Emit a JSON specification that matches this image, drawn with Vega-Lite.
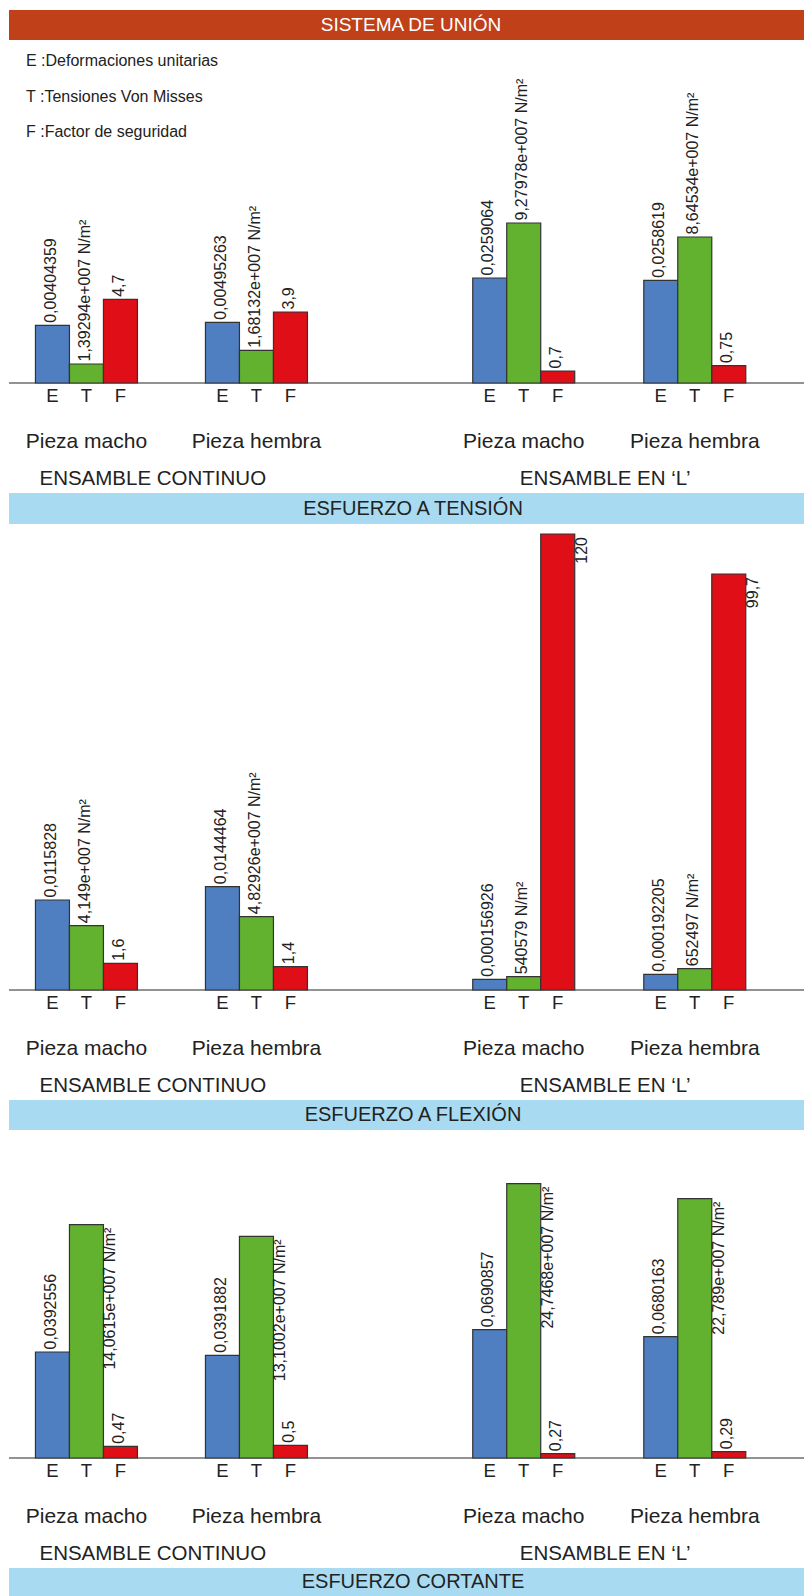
{
  "$schema": "https://vega.github.io/schema/vega-lite/v6.json",
  "padding": {"left": 8, "top": 10, "right": 0, "bottom": 0},
  "autosize": {"type": "pad"},
  "background": "white",
  "config": {"view": {"stroke": null}, "text": {"font": "Liberation Sans", "color": "#222222"}},
  "datasets": {
    "titulo": [{"titulo": "SISTEMA DE UNIÓN"}],
    "barras": [
      {"panel": "ESFUERZO A TENSIÓN", "ensamble": "ENSAMBLE CONTINUO", "pieza": "Pieza macho", "metrica": "E", "altura": 57.7, "etiqueta": "0,00404359"},
      {"panel": "ESFUERZO A TENSIÓN", "ensamble": "ENSAMBLE CONTINUO", "pieza": "Pieza macho", "metrica": "T", "altura": 19, "etiqueta": "1,39294e+007 N/m²"},
      {"panel": "ESFUERZO A TENSIÓN", "ensamble": "ENSAMBLE CONTINUO", "pieza": "Pieza macho", "metrica": "F", "altura": 83.7, "etiqueta": "4,7"},
      {"panel": "ESFUERZO A TENSIÓN", "ensamble": "ENSAMBLE CONTINUO", "pieza": "Pieza hembra", "metrica": "E", "altura": 60.7, "etiqueta": "0,00495263"},
      {"panel": "ESFUERZO A TENSIÓN", "ensamble": "ENSAMBLE CONTINUO", "pieza": "Pieza hembra", "metrica": "T", "altura": 32.7, "etiqueta": "1,68132e+007 N/m²"},
      {"panel": "ESFUERZO A TENSIÓN", "ensamble": "ENSAMBLE CONTINUO", "pieza": "Pieza hembra", "metrica": "F", "altura": 71, "etiqueta": "3,9"},
      {"panel": "ESFUERZO A TENSIÓN", "ensamble": "ENSAMBLE EN ‘L’", "pieza": "Pieza macho", "metrica": "E", "altura": 105, "etiqueta": "0,0259064"},
      {"panel": "ESFUERZO A TENSIÓN", "ensamble": "ENSAMBLE EN ‘L’", "pieza": "Pieza macho", "metrica": "T", "altura": 160, "etiqueta": "9,27978e+007 N/m²"},
      {"panel": "ESFUERZO A TENSIÓN", "ensamble": "ENSAMBLE EN ‘L’", "pieza": "Pieza macho", "metrica": "F", "altura": 12, "etiqueta": "0,7"},
      {"panel": "ESFUERZO A TENSIÓN", "ensamble": "ENSAMBLE EN ‘L’", "pieza": "Pieza hembra", "metrica": "E", "altura": 102.7, "etiqueta": "0,0258619"},
      {"panel": "ESFUERZO A TENSIÓN", "ensamble": "ENSAMBLE EN ‘L’", "pieza": "Pieza hembra", "metrica": "T", "altura": 146, "etiqueta": "8,64534e+007 N/m²"},
      {"panel": "ESFUERZO A TENSIÓN", "ensamble": "ENSAMBLE EN ‘L’", "pieza": "Pieza hembra", "metrica": "F", "altura": 17.4, "etiqueta": "0,75"},
      {"panel": "ESFUERZO A FLEXIÓN", "ensamble": "ENSAMBLE CONTINUO", "pieza": "Pieza macho", "metrica": "E", "altura": 90, "etiqueta": "0,0115828"},
      {"panel": "ESFUERZO A FLEXIÓN", "ensamble": "ENSAMBLE CONTINUO", "pieza": "Pieza macho", "metrica": "T", "altura": 64.3, "etiqueta": "4,149e+007 N/m²"},
      {"panel": "ESFUERZO A FLEXIÓN", "ensamble": "ENSAMBLE CONTINUO", "pieza": "Pieza macho", "metrica": "F", "altura": 26.7, "etiqueta": "1,6"},
      {"panel": "ESFUERZO A FLEXIÓN", "ensamble": "ENSAMBLE CONTINUO", "pieza": "Pieza hembra", "metrica": "E", "altura": 103.3, "etiqueta": "0,0144464"},
      {"panel": "ESFUERZO A FLEXIÓN", "ensamble": "ENSAMBLE CONTINUO", "pieza": "Pieza hembra", "metrica": "T", "altura": 73.3, "etiqueta": "4,82926e+007 N/m²"},
      {"panel": "ESFUERZO A FLEXIÓN", "ensamble": "ENSAMBLE CONTINUO", "pieza": "Pieza hembra", "metrica": "F", "altura": 23.3, "etiqueta": "1,4"},
      {"panel": "ESFUERZO A FLEXIÓN", "ensamble": "ENSAMBLE EN ‘L’", "pieza": "Pieza macho", "metrica": "E", "altura": 10.7, "etiqueta": "0,000156926"},
      {"panel": "ESFUERZO A FLEXIÓN", "ensamble": "ENSAMBLE EN ‘L’", "pieza": "Pieza macho", "metrica": "T", "altura": 13.3, "etiqueta": "540579 N/m²"},
      {"panel": "ESFUERZO A FLEXIÓN", "ensamble": "ENSAMBLE EN ‘L’", "pieza": "Pieza macho", "metrica": "F", "altura": 456, "etiqueta": "120"},
      {"panel": "ESFUERZO A FLEXIÓN", "ensamble": "ENSAMBLE EN ‘L’", "pieza": "Pieza hembra", "metrica": "E", "altura": 15.7, "etiqueta": "0,000192205"},
      {"panel": "ESFUERZO A FLEXIÓN", "ensamble": "ENSAMBLE EN ‘L’", "pieza": "Pieza hembra", "metrica": "T", "altura": 21.3, "etiqueta": "652497 N/m²"},
      {"panel": "ESFUERZO A FLEXIÓN", "ensamble": "ENSAMBLE EN ‘L’", "pieza": "Pieza hembra", "metrica": "F", "altura": 416, "etiqueta": "99,7"},
      {"panel": "ESFUERZO  CORTANTE", "ensamble": "ENSAMBLE CONTINUO", "pieza": "Pieza macho", "metrica": "E", "altura": 106, "etiqueta": "0,0392556"},
      {"panel": "ESFUERZO  CORTANTE", "ensamble": "ENSAMBLE CONTINUO", "pieza": "Pieza macho", "metrica": "T", "altura": 233.3, "etiqueta": "14,0615e+007 N/m²"},
      {"panel": "ESFUERZO  CORTANTE", "ensamble": "ENSAMBLE CONTINUO", "pieza": "Pieza macho", "metrica": "F", "altura": 11.7, "etiqueta": "0,47"},
      {"panel": "ESFUERZO  CORTANTE", "ensamble": "ENSAMBLE CONTINUO", "pieza": "Pieza hembra", "metrica": "E", "altura": 102.7, "etiqueta": "0,0391882"},
      {"panel": "ESFUERZO  CORTANTE", "ensamble": "ENSAMBLE CONTINUO", "pieza": "Pieza hembra", "metrica": "T", "altura": 221.7, "etiqueta": "13,1002e+007 N/m²"},
      {"panel": "ESFUERZO  CORTANTE", "ensamble": "ENSAMBLE CONTINUO", "pieza": "Pieza hembra", "metrica": "F", "altura": 12.7, "etiqueta": "0,5"},
      {"panel": "ESFUERZO  CORTANTE", "ensamble": "ENSAMBLE EN ‘L’", "pieza": "Pieza macho", "metrica": "E", "altura": 128.3, "etiqueta": "0,0690857"},
      {"panel": "ESFUERZO  CORTANTE", "ensamble": "ENSAMBLE EN ‘L’", "pieza": "Pieza macho", "metrica": "T", "altura": 274.3, "etiqueta": "24,7468e+007 N/m²"},
      {"panel": "ESFUERZO  CORTANTE", "ensamble": "ENSAMBLE EN ‘L’", "pieza": "Pieza macho", "metrica": "F", "altura": 4.3, "etiqueta": "0,27"},
      {"panel": "ESFUERZO  CORTANTE", "ensamble": "ENSAMBLE EN ‘L’", "pieza": "Pieza hembra", "metrica": "E", "altura": 121.3, "etiqueta": "0,0680163"},
      {"panel": "ESFUERZO  CORTANTE", "ensamble": "ENSAMBLE EN ‘L’", "pieza": "Pieza hembra", "metrica": "T", "altura": 259.3, "etiqueta": "22,789e+007 N/m²"},
      {"panel": "ESFUERZO  CORTANTE", "ensamble": "ENSAMBLE EN ‘L’", "pieza": "Pieza hembra", "metrica": "F", "altura": 6.3, "etiqueta": "0,29"}
    ]
  },
  "spacing": 0,
  "vconcat": [
    {
      "width": 796, "height": 30,
      "view": {"fill": "#BF4019", "stroke": null},
      "data": {"name": "titulo"},
      "mark": {"type": "text", "color": "white", "fontSize": 19, "baseline": "middle", "dx": 4},
      "encoding": {"text": {"field": "titulo"}}
    },
    {
      "hconcat": [
        {
          "width": 340, "height": 453,
          "data": {"name": "barras"},
          "transform": [{"filter": "datum.panel == 'ESFUERZO A TENSIÓN' && datum.ensamble == 'ENSAMBLE CONTINUO'"}],
          "layer": [
            {"transform": [{"filter": "datum.metrica == 'T' && datum.pieza == 'Pieza macho'"}], "mark": {"type": "rule", "color": "#6e6e6e", "strokeWidth": 1.5}, "encoding": {"y": {"datum": 0, "type": "quantitative", "axis": null}}},
            {"mark": {"type": "bar", "stroke": "#333333", "strokeWidth": 1.2}, "encoding": {
              "x": {"field": "pieza", "type": "nominal", "scale": {"domain": ["Pieza macho", "Pieza hembra"], "paddingInner": 0, "paddingOuter": 0}, "axis": null},
              "xOffset": {"field": "metrica", "type": "nominal", "scale": {"domain": ["E", "T", "F"], "paddingInner": 0, "paddingOuter": 1.9, "align": 0.389}},
              "y": {"field": "altura", "type": "quantitative", "scale": {"domain": [-110, 343], "nice": false}, "axis": null},
              "y2": {"datum": 0},
              "color": {"field": "metrica", "type": "nominal", "scale": {"domain": ["E", "T", "F"], "range": ["#4F7EC1", "#62B22F", "#E00E16"]},
                "legend": {"orient": "none", "direction": "vertical", "legendX": 1, "legendY": 43, "title": null, "padding": 0, "symbolSize": 0, "symbolOpacity": 0, "symbolStrokeWidth": 0, "labelOffset": 0, "labelLimit": 400, "labelFont": "Liberation Sans", "labelFontSize": 16, "labelColor": "#222222", "rowPadding": 19.5,
                  "labelExpr": "datum.label == 'E' ? 'E  :Deformaciones unitarias' : datum.label == 'T' ? 'T  :Tensiones Von Misses' : 'F  :Factor de seguridad'"}}
            }},
            {"mark": {"type": "text", "angle": 270, "align": "left", "baseline": "middle", "dx": 2.5, "dy": -1.5, "fontSize": 16}, "encoding": {"x": {"field": "pieza", "type": "nominal", "axis": null}, "xOffset": {"field": "metrica", "type": "nominal"}, "y": {"field": "altura", "type": "quantitative", "axis": null}, "text": {"field": "etiqueta"}}},
            {"mark": {"type": "text", "baseline": "middle", "dy": 13, "fontSize": 18.5}, "encoding": {"x": {"field": "pieza", "type": "nominal", "axis": null}, "xOffset": {"field": "metrica", "type": "nominal"}, "y": {"datum": 0, "type": "quantitative", "axis": null}, "text": {"field": "metrica"}}},
            {"transform": [{"filter": "datum.metrica == 'T'"}], "mark": {"type": "text", "baseline": "middle", "dy": 59, "fontSize": 21}, "encoding": {"x": {"field": "pieza", "type": "nominal", "axis": null}, "xOffset": {"field": "metrica", "type": "nominal"}, "y": {"datum": 0, "type": "quantitative", "axis": null}, "text": {"field": "pieza"}}},
            {"transform": [{"filter": "datum.metrica == 'T' && datum.pieza == 'Pieza macho'"}], "mark": {"type": "text", "align": "left", "baseline": "middle", "dx": -47, "dy": 96, "fontSize": 20.5}, "encoding": {"x": {"field": "pieza", "type": "nominal", "axis": null}, "xOffset": {"field": "metrica", "type": "nominal"}, "y": {"datum": 0, "type": "quantitative", "axis": null}, "text": {"field": "ensamble"}}}
          ]
        },
        {
          "width": 456, "height": 453,
          "data": {"name": "barras"},
          "transform": [{"filter": "datum.panel == 'ESFUERZO A TENSIÓN' && datum.ensamble != 'ENSAMBLE CONTINUO'"}],
          "layer": [
            {"transform": [{"filter": "datum.metrica == 'T' && datum.pieza == 'Pieza macho'"}], "mark": {"type": "rule", "color": "#6e6e6e", "strokeWidth": 1.5}, "encoding": {"y": {"datum": 0, "type": "quantitative", "axis": null}}},
            {"mark": {"type": "bar", "stroke": "#333333", "strokeWidth": 1.2}, "encoding": {
              "x": {"field": "pieza", "type": "nominal", "scale": {"domain": ["Pieza macho", "Pieza hembra"], "paddingInner": 0, "paddingOuter": 0.333, "align": 0.854}, "axis": null},
              "xOffset": {"field": "metrica", "type": "nominal", "scale": {"domain": ["E", "T", "F"], "paddingInner": 0, "paddingOuter": 1.9, "align": 0.389}},
              "y": {"field": "altura", "type": "quantitative", "scale": {"domain": [-110, 343], "nice": false}, "axis": null},
              "y2": {"datum": 0},
              "color": {"field": "metrica", "type": "nominal", "scale": {"domain": ["E", "T", "F"], "range": ["#4F7EC1", "#62B22F", "#E00E16"]}, "legend": null}
            }},
            {"mark": {"type": "text", "angle": 270, "align": "left", "baseline": "middle", "dx": 2.5, "dy": -1.5, "fontSize": 16}, "encoding": {"x": {"field": "pieza", "type": "nominal", "axis": null}, "xOffset": {"field": "metrica", "type": "nominal"}, "y": {"field": "altura", "type": "quantitative", "axis": null}, "text": {"field": "etiqueta"}}},
            {"mark": {"type": "text", "baseline": "middle", "dy": 13, "fontSize": 18.5}, "encoding": {"x": {"field": "pieza", "type": "nominal", "axis": null}, "xOffset": {"field": "metrica", "type": "nominal"}, "y": {"datum": 0, "type": "quantitative", "axis": null}, "text": {"field": "metrica"}}},
            {"transform": [{"filter": "datum.metrica == 'T'"}], "mark": {"type": "text", "baseline": "middle", "dy": 59, "fontSize": 21}, "encoding": {"x": {"field": "pieza", "type": "nominal", "axis": null}, "xOffset": {"field": "metrica", "type": "nominal"}, "y": {"datum": 0, "type": "quantitative", "axis": null}, "text": {"field": "pieza"}}},
            {"transform": [{"filter": "datum.metrica == 'T' && datum.pieza == 'Pieza macho'"}], "mark": {"type": "text", "align": "left", "baseline": "middle", "dx": -4, "dy": 96, "fontSize": 20.5}, "encoding": {"x": {"field": "pieza", "type": "nominal", "axis": null}, "xOffset": {"field": "metrica", "type": "nominal"}, "y": {"datum": 0, "type": "quantitative", "axis": null}, "text": {"field": "ensamble"}}}
          ]
        }
      ],
      "spacing": 0,
      "bounds": "flush"
    },
    {
      "width": 796, "height": 31,
      "view": {"fill": "#A8DBF1", "stroke": null},
      "data": {"name": "barras"},
      "transform": [{"filter": "datum.panel == 'ESFUERZO A TENSIÓN' && datum.metrica == 'T' && datum.pieza == 'Pieza macho' && datum.ensamble == 'ENSAMBLE CONTINUO'"}],
      "mark": {"type": "text", "fontSize": 20, "baseline": "middle", "dx": 6},
      "encoding": {"text": {"field": "panel"}}
    },
    {
      "hconcat": [
        {
          "width": 340, "height": 576,
          "data": {"name": "barras"},
          "transform": [{"filter": "datum.panel == 'ESFUERZO A FLEXIÓN' && datum.ensamble == 'ENSAMBLE CONTINUO'"}],
          "layer": [
            {"transform": [{"filter": "datum.metrica == 'T' && datum.pieza == 'Pieza macho'"}], "mark": {"type": "rule", "color": "#6e6e6e", "strokeWidth": 1.5}, "encoding": {"y": {"datum": 0, "type": "quantitative", "axis": null}}},
            {"mark": {"type": "bar", "stroke": "#333333", "strokeWidth": 1.2}, "encoding": {
              "x": {"field": "pieza", "type": "nominal", "scale": {"domain": ["Pieza macho", "Pieza hembra"], "paddingInner": 0, "paddingOuter": 0}, "axis": null},
              "xOffset": {"field": "metrica", "type": "nominal", "scale": {"domain": ["E", "T", "F"], "paddingInner": 0, "paddingOuter": 1.9, "align": 0.389}},
              "y": {"field": "altura", "type": "quantitative", "scale": {"domain": [-110, 466], "nice": false}, "axis": null},
              "y2": {"datum": 0},
              "color": {"field": "metrica", "type": "nominal", "scale": {"domain": ["E", "T", "F"], "range": ["#4F7EC1", "#62B22F", "#E00E16"]}, "legend": null}
            }},
            {"mark": {"type": "text", "angle": 270, "align": "left", "baseline": "middle", "dx": 2.5, "dy": -1.5, "fontSize": 16}, "encoding": {"x": {"field": "pieza", "type": "nominal", "axis": null}, "xOffset": {"field": "metrica", "type": "nominal"}, "y": {"field": "altura", "type": "quantitative", "axis": null}, "text": {"field": "etiqueta"}}},
            {"mark": {"type": "text", "baseline": "middle", "dy": 13, "fontSize": 18.5}, "encoding": {"x": {"field": "pieza", "type": "nominal", "axis": null}, "xOffset": {"field": "metrica", "type": "nominal"}, "y": {"datum": 0, "type": "quantitative", "axis": null}, "text": {"field": "metrica"}}},
            {"transform": [{"filter": "datum.metrica == 'T'"}], "mark": {"type": "text", "baseline": "middle", "dy": 59, "fontSize": 21}, "encoding": {"x": {"field": "pieza", "type": "nominal", "axis": null}, "xOffset": {"field": "metrica", "type": "nominal"}, "y": {"datum": 0, "type": "quantitative", "axis": null}, "text": {"field": "pieza"}}},
            {"transform": [{"filter": "datum.metrica == 'T' && datum.pieza == 'Pieza macho'"}], "mark": {"type": "text", "align": "left", "baseline": "middle", "dx": -47, "dy": 96, "fontSize": 20.5}, "encoding": {"x": {"field": "pieza", "type": "nominal", "axis": null}, "xOffset": {"field": "metrica", "type": "nominal"}, "y": {"datum": 0, "type": "quantitative", "axis": null}, "text": {"field": "ensamble"}}}
          ]
        },
        {
          "width": 456, "height": 576,
          "data": {"name": "barras"},
          "transform": [{"filter": "datum.panel == 'ESFUERZO A FLEXIÓN' && datum.ensamble != 'ENSAMBLE CONTINUO'"}],
          "layer": [
            {"transform": [{"filter": "datum.metrica == 'T' && datum.pieza == 'Pieza macho'"}], "mark": {"type": "rule", "color": "#6e6e6e", "strokeWidth": 1.5}, "encoding": {"y": {"datum": 0, "type": "quantitative", "axis": null}}},
            {"mark": {"type": "bar", "stroke": "#333333", "strokeWidth": 1.2}, "encoding": {
              "x": {"field": "pieza", "type": "nominal", "scale": {"domain": ["Pieza macho", "Pieza hembra"], "paddingInner": 0, "paddingOuter": 0.333, "align": 0.854}, "axis": null},
              "xOffset": {"field": "metrica", "type": "nominal", "scale": {"domain": ["E", "T", "F"], "paddingInner": 0, "paddingOuter": 1.9, "align": 0.389}},
              "y": {"field": "altura", "type": "quantitative", "scale": {"domain": [-110, 466], "nice": false}, "axis": null},
              "y2": {"datum": 0},
              "color": {"field": "metrica", "type": "nominal", "scale": {"domain": ["E", "T", "F"], "range": ["#4F7EC1", "#62B22F", "#E00E16"]}, "legend": null}
            }},
            {"transform": [{"filter": "datum.metrica != 'F'"}], "mark": {"type": "text", "angle": 270, "align": "left", "baseline": "middle", "dx": 2.5, "dy": -1.5, "fontSize": 16}, "encoding": {"x": {"field": "pieza", "type": "nominal", "axis": null}, "xOffset": {"field": "metrica", "type": "nominal"}, "y": {"field": "altura", "type": "quantitative", "axis": null}, "text": {"field": "etiqueta"}}},
            {"transform": [{"filter": "datum.metrica == 'F'"}], "mark": {"type": "text", "angle": 270, "align": "right", "baseline": "middle", "dx": -3, "dy": 24, "fontSize": 16}, "encoding": {"x": {"field": "pieza", "type": "nominal", "axis": null}, "xOffset": {"field": "metrica", "type": "nominal"}, "y": {"field": "altura", "type": "quantitative", "axis": null}, "text": {"field": "etiqueta"}}},
            {"mark": {"type": "text", "baseline": "middle", "dy": 13, "fontSize": 18.5}, "encoding": {"x": {"field": "pieza", "type": "nominal", "axis": null}, "xOffset": {"field": "metrica", "type": "nominal"}, "y": {"datum": 0, "type": "quantitative", "axis": null}, "text": {"field": "metrica"}}},
            {"transform": [{"filter": "datum.metrica == 'T'"}], "mark": {"type": "text", "baseline": "middle", "dy": 59, "fontSize": 21}, "encoding": {"x": {"field": "pieza", "type": "nominal", "axis": null}, "xOffset": {"field": "metrica", "type": "nominal"}, "y": {"datum": 0, "type": "quantitative", "axis": null}, "text": {"field": "pieza"}}},
            {"transform": [{"filter": "datum.metrica == 'T' && datum.pieza == 'Pieza macho'"}], "mark": {"type": "text", "align": "left", "baseline": "middle", "dx": -4, "dy": 96, "fontSize": 20.5}, "encoding": {"x": {"field": "pieza", "type": "nominal", "axis": null}, "xOffset": {"field": "metrica", "type": "nominal"}, "y": {"datum": 0, "type": "quantitative", "axis": null}, "text": {"field": "ensamble"}}}
          ]
        }
      ],
      "spacing": 0,
      "bounds": "flush"
    },
    {
      "width": 796, "height": 30,
      "view": {"fill": "#A8DBF1", "stroke": null},
      "data": {"name": "barras"},
      "transform": [{"filter": "datum.panel == 'ESFUERZO A FLEXIÓN' && datum.metrica == 'T' && datum.pieza == 'Pieza macho' && datum.ensamble == 'ENSAMBLE CONTINUO'"}],
      "mark": {"type": "text", "fontSize": 20, "baseline": "middle", "dx": 6},
      "encoding": {"text": {"field": "panel"}}
    },
    {
      "hconcat": [
        {
          "width": 340, "height": 438,
          "data": {"name": "barras"},
          "transform": [{"filter": "datum.panel == 'ESFUERZO  CORTANTE' && datum.ensamble == 'ENSAMBLE CONTINUO'"}],
          "layer": [
            {"transform": [{"filter": "datum.metrica == 'T' && datum.pieza == 'Pieza macho'"}], "mark": {"type": "rule", "color": "#6e6e6e", "strokeWidth": 1.5}, "encoding": {"y": {"datum": 0, "type": "quantitative", "axis": null}}},
            {"mark": {"type": "bar", "stroke": "#333333", "strokeWidth": 1.2}, "encoding": {
              "x": {"field": "pieza", "type": "nominal", "scale": {"domain": ["Pieza macho", "Pieza hembra"], "paddingInner": 0, "paddingOuter": 0}, "axis": null},
              "xOffset": {"field": "metrica", "type": "nominal", "scale": {"domain": ["E", "T", "F"], "paddingInner": 0, "paddingOuter": 1.9, "align": 0.389}},
              "y": {"field": "altura", "type": "quantitative", "scale": {"domain": [-110, 328], "nice": false}, "axis": null},
              "y2": {"datum": 0},
              "color": {"field": "metrica", "type": "nominal", "scale": {"domain": ["E", "T", "F"], "range": ["#4F7EC1", "#62B22F", "#E00E16"]}, "legend": null}
            }},
            {"transform": [{"filter": "datum.metrica != 'T'"}], "mark": {"type": "text", "angle": 270, "align": "left", "baseline": "middle", "dx": 2.5, "dy": -1.5, "fontSize": 16}, "encoding": {"x": {"field": "pieza", "type": "nominal", "axis": null}, "xOffset": {"field": "metrica", "type": "nominal"}, "y": {"field": "altura", "type": "quantitative", "axis": null}, "text": {"field": "etiqueta"}}},
            {"transform": [{"filter": "datum.metrica == 'T'"}], "mark": {"type": "text", "angle": 270, "align": "right", "baseline": "middle", "dx": -3, "dy": 24, "fontSize": 16}, "encoding": {"x": {"field": "pieza", "type": "nominal", "axis": null}, "xOffset": {"field": "metrica", "type": "nominal"}, "y": {"field": "altura", "type": "quantitative", "axis": null}, "text": {"field": "etiqueta"}}},
            {"mark": {"type": "text", "baseline": "middle", "dy": 13, "fontSize": 18.5}, "encoding": {"x": {"field": "pieza", "type": "nominal", "axis": null}, "xOffset": {"field": "metrica", "type": "nominal"}, "y": {"datum": 0, "type": "quantitative", "axis": null}, "text": {"field": "metrica"}}},
            {"transform": [{"filter": "datum.metrica == 'T'"}], "mark": {"type": "text", "baseline": "middle", "dy": 59, "fontSize": 21}, "encoding": {"x": {"field": "pieza", "type": "nominal", "axis": null}, "xOffset": {"field": "metrica", "type": "nominal"}, "y": {"datum": 0, "type": "quantitative", "axis": null}, "text": {"field": "pieza"}}},
            {"transform": [{"filter": "datum.metrica == 'T' && datum.pieza == 'Pieza macho'"}], "mark": {"type": "text", "align": "left", "baseline": "middle", "dx": -47, "dy": 96, "fontSize": 20.5}, "encoding": {"x": {"field": "pieza", "type": "nominal", "axis": null}, "xOffset": {"field": "metrica", "type": "nominal"}, "y": {"datum": 0, "type": "quantitative", "axis": null}, "text": {"field": "ensamble"}}}
          ]
        },
        {
          "width": 456, "height": 438,
          "data": {"name": "barras"},
          "transform": [{"filter": "datum.panel == 'ESFUERZO  CORTANTE' && datum.ensamble != 'ENSAMBLE CONTINUO'"}],
          "layer": [
            {"transform": [{"filter": "datum.metrica == 'T' && datum.pieza == 'Pieza macho'"}], "mark": {"type": "rule", "color": "#6e6e6e", "strokeWidth": 1.5}, "encoding": {"y": {"datum": 0, "type": "quantitative", "axis": null}}},
            {"mark": {"type": "bar", "stroke": "#333333", "strokeWidth": 1.2}, "encoding": {
              "x": {"field": "pieza", "type": "nominal", "scale": {"domain": ["Pieza macho", "Pieza hembra"], "paddingInner": 0, "paddingOuter": 0.333, "align": 0.854}, "axis": null},
              "xOffset": {"field": "metrica", "type": "nominal", "scale": {"domain": ["E", "T", "F"], "paddingInner": 0, "paddingOuter": 1.9, "align": 0.389}},
              "y": {"field": "altura", "type": "quantitative", "scale": {"domain": [-110, 328], "nice": false}, "axis": null},
              "y2": {"datum": 0},
              "color": {"field": "metrica", "type": "nominal", "scale": {"domain": ["E", "T", "F"], "range": ["#4F7EC1", "#62B22F", "#E00E16"]}, "legend": null}
            }},
            {"transform": [{"filter": "datum.metrica != 'T'"}], "mark": {"type": "text", "angle": 270, "align": "left", "baseline": "middle", "dx": 2.5, "dy": -1.5, "fontSize": 16}, "encoding": {"x": {"field": "pieza", "type": "nominal", "axis": null}, "xOffset": {"field": "metrica", "type": "nominal"}, "y": {"field": "altura", "type": "quantitative", "axis": null}, "text": {"field": "etiqueta"}}},
            {"transform": [{"filter": "datum.metrica == 'T'"}], "mark": {"type": "text", "angle": 270, "align": "right", "baseline": "middle", "dx": -3, "dy": 24, "fontSize": 16}, "encoding": {"x": {"field": "pieza", "type": "nominal", "axis": null}, "xOffset": {"field": "metrica", "type": "nominal"}, "y": {"field": "altura", "type": "quantitative", "axis": null}, "text": {"field": "etiqueta"}}},
            {"mark": {"type": "text", "baseline": "middle", "dy": 13, "fontSize": 18.5}, "encoding": {"x": {"field": "pieza", "type": "nominal", "axis": null}, "xOffset": {"field": "metrica", "type": "nominal"}, "y": {"datum": 0, "type": "quantitative", "axis": null}, "text": {"field": "metrica"}}},
            {"transform": [{"filter": "datum.metrica == 'T'"}], "mark": {"type": "text", "baseline": "middle", "dy": 59, "fontSize": 21}, "encoding": {"x": {"field": "pieza", "type": "nominal", "axis": null}, "xOffset": {"field": "metrica", "type": "nominal"}, "y": {"datum": 0, "type": "quantitative", "axis": null}, "text": {"field": "pieza"}}},
            {"transform": [{"filter": "datum.metrica == 'T' && datum.pieza == 'Pieza macho'"}], "mark": {"type": "text", "align": "left", "baseline": "middle", "dx": -4, "dy": 96, "fontSize": 20.5}, "encoding": {"x": {"field": "pieza", "type": "nominal", "axis": null}, "xOffset": {"field": "metrica", "type": "nominal"}, "y": {"datum": 0, "type": "quantitative", "axis": null}, "text": {"field": "ensamble"}}}
          ]
        }
      ],
      "spacing": 0,
      "bounds": "flush"
    },
    {
      "width": 796, "height": 28,
      "view": {"fill": "#A8DBF1", "stroke": null},
      "data": {"name": "barras"},
      "transform": [{"filter": "datum.panel == 'ESFUERZO  CORTANTE' && datum.metrica == 'T' && datum.pieza == 'Pieza macho' && datum.ensamble == 'ENSAMBLE CONTINUO'"}],
      "mark": {"type": "text", "fontSize": 20, "baseline": "middle", "dx": 6},
      "encoding": {"text": {"field": "panel"}}
    }
  ]
}
